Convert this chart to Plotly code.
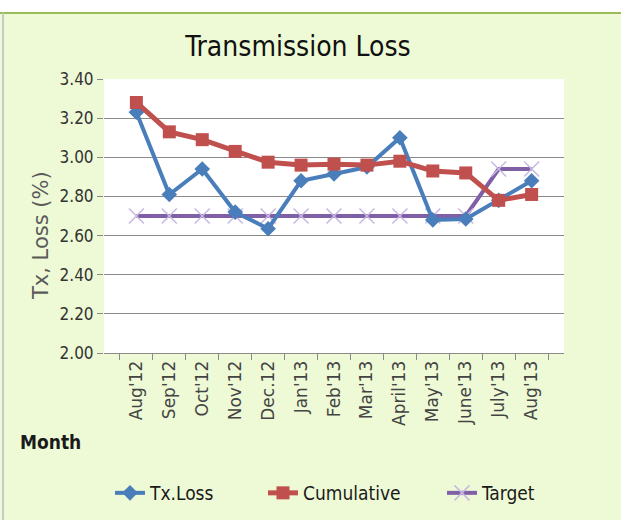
import plotly.graph_objects as go

months = ["Aug'12", "Sep'12", "Oct'12", "Nov'12", "Dec.12", "Jan'13", "Feb'13",
          "Mar'13", "April'13", "May'13", "June'13", "July'13", "Aug'13"]
tx_loss = [3.23, 2.81, 2.94, 2.72, 2.635, 2.88, 2.915, 2.95, 3.10, 2.68, 2.685, 2.78, 2.88]
cumulative = [3.28, 3.13, 3.09, 3.03, 2.975, 2.96, 2.965, 2.96, 2.98, 2.93, 2.92, 2.78, 2.81]
target = [2.70, 2.70, 2.70, 2.70, 2.70, 2.70, 2.70, 2.70, 2.70, 2.70, 2.70, 2.94, 2.94]
y_ticks = [2.00, 2.20, 2.40, 2.60, 2.80, 3.00, 3.20, 3.40]

W, H = 621, 520
L, R, T, B = 104, 57, 79, 167
pw, ph = W - L - R, H - T - B

def px_x(p):
    return (p - L) / pw

def px_y(p):
    return (H - B - p) / ph

NARROW = "Liberation Sans Narrow, DejaVu Sans Condensed, Roboto Condensed, sans-serif"
WIDE = "DejaVu Sans, Verdana, sans-serif"

fig = go.Figure()
fig.add_trace(go.Scatter(
    x=months, y=target, name="Target", mode="lines+markers",
    line=dict(color="#7f5fa6", width=4),
    marker=dict(symbol="x-thin-open", size=15, line=dict(color="#c8b8e2", width=1.5), color="#c8b8e2"),
    legend="legend3"))
fig.add_trace(go.Scatter(
    x=months, y=tx_loss, name="Tx.Loss", mode="lines+markers",
    line=dict(color="#4a7ebb", width=4),
    marker=dict(symbol="diamond", size=12, color="#4a7ebb"),
    legend="legend"))
fig.add_trace(go.Scatter(
    x=months, y=cumulative, name="Cumulative", mode="lines+markers",
    line=dict(color="#c0504d", width=5),
    marker=dict(symbol="square", size=13, color="#c0504d"),
    legend="legend2"))

leg_common = dict(orientation="h", yanchor="middle", xanchor="left",
                  bgcolor="rgba(0,0,0,0)", font=dict(family=NARROW, size=19, color="#1a1a1a"))

fig.update_layout(
    width=W, height=H,
    margin=dict(l=L, r=R, t=T, b=B, autoexpand=False),
    paper_bgcolor="#eefad6",
    plot_bgcolor="#ffffff",
    title=dict(text="Transmission Loss", x=298 / W, xanchor="center", y=1 - 46 / H, yanchor="middle",
               font=dict(family=NARROW, size=28, color="#111111")),
    xaxis=dict(type="category", tickangle=-90, tickson="boundaries", ticks="outside", ticklen=6,
               tickcolor="#8a8a8a", showgrid=False, showline=True, linecolor="#8a8a8a", linewidth=1,
               tickfont=dict(family=WIDE, size=17, color="#444444"),
               fixedrange=True),
    yaxis=dict(range=[2.0, 3.4], tickvals=y_ticks, tickformat=".2f", ticks="outside", ticklen=6,
               tickcolor="#8a8a8a", showgrid=True, gridcolor="#8a8a8a", gridwidth=1,
               zeroline=False, showline=False,
               tickfont=dict(family=NARROW, size=17, color="#333333")),
    legend=dict(x=px_x(110), y=px_y(493), **leg_common),
    legend2=dict(x=px_x(263), y=px_y(493), **leg_common),
    legend3=dict(x=px_x(442), y=px_y(493), **leg_common),
    showlegend=True,
    shapes=[
        dict(type="rect", xref="paper", yref="paper", x0=px_x(-5), x1=px_x(W + 5),
             y0=px_y(12), y1=px_y(-10), fillcolor="#ffffff", line=dict(width=0), layer="above"),
        dict(type="line", xref="paper", yref="paper", x0=px_x(0), x1=px_x(W),
             y0=px_y(13), y1=px_y(13), line=dict(color="#9bbb59", width=2)),
        dict(type="line", xref="paper", yref="paper", x0=px_x(3), x1=px_x(3),
             y0=px_y(13), y1=px_y(H), line=dict(color="#c8c8c8", width=2)),
    ],
    annotations=[
        dict(text="Tx, Loss (%)", xref="paper", yref="paper", x=px_x(41), y=px_y(236),
             xanchor="center", yanchor="middle", textangle=-90, showarrow=False,
             font=dict(family=WIDE, size=21, color="#5a5a5a")),
        dict(text="<b>Month</b>", xref="paper", yref="paper", x=px_x(50), y=px_y(442),
             xanchor="center", yanchor="middle", showarrow=False,
             font=dict(family=NARROW, size=19, color="#1a1a1a")),
    ],
)

fig.write_html("out.html", config={"displayModeBar": False},
               post_script="document.body.style.margin='0';")
